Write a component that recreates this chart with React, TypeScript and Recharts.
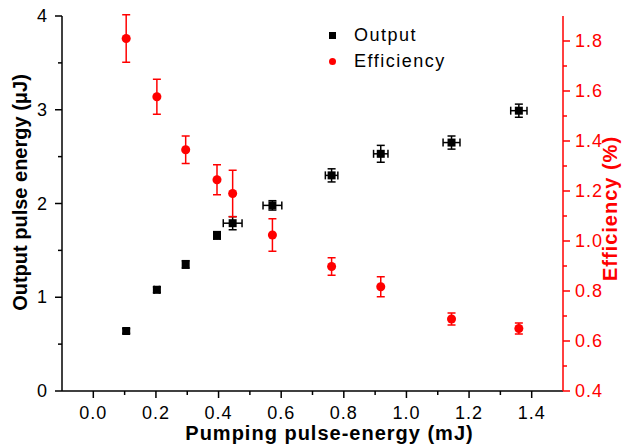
import {
  ScatterChart, Scatter, XAxis, YAxis, ZAxis, ErrorBar, Legend,
} from "recharts";

// pumping pulse energy (mJ) and its x error
const pump = [0.105, 0.203, 0.295, 0.395, 0.445, 0.572, 0.761, 0.918, 1.144, 1.359];
const pumpErr = [0.008, 0.008, 0.008, 0.01, 0.03, 0.03, 0.02, 0.023, 0.027, 0.026];

// output pulse energy (uJ)
const output = [0.64, 1.08, 1.35, 1.66, 1.79, 1.98, 2.30, 2.53, 2.65, 2.99];
const outputErr = [0.025, 0.03, 0.04, 0.04, 0.07, 0.05, 0.07, 0.09, 0.07, 0.07];

// efficiency (%)
const efficiency = [1.81, 1.577, 1.365, 1.245, 1.19, 1.024, 0.898, 0.817, 0.688, 0.650];
const efficiencyErr = [0.095, 0.07, 0.055, 0.06, 0.093, 0.065, 0.035, 0.04, 0.024, 0.022];

const xTicks = [0, 0.1, 0.2, 0.3, 0.4, 0.5, 0.6, 0.7, 0.8, 0.9, 1.0, 1.1, 1.2, 1.3, 1.4];
const leftTicks = [0, 0.5, 1, 1.5, 2, 2.5, 3, 3.5, 4];
const rightTicks = [0.4, 0.5, 0.6, 0.7, 0.8, 0.9, 1.0, 1.1, 1.2, 1.3, 1.4, 1.5, 1.6, 1.7, 1.8];

const outputData = pump.map((x, i) => ({ x, y: output[i], ex: pumpErr[i], ey: outputErr[i] }));
const effData = pump.map((x, i) => ({ x, y: efficiency[i], ey: efficiencyErr[i] }));

const FONT = "'Liberation Sans', Arial, sans-serif";
const RED = "#ff0000";

const isMajorTenth = (v: number) => Math.round(v * 10) % 2 === 0;

function BottomTick({ x, y, payload }: any) {
  const v = payload.value;
  const major = isMajorTenth(v);
  return (
    <g>
      <line x1={x} x2={x} y1={y} y2={y + (major ? 7 : 4)} stroke="#000" strokeWidth={1.5} />
      {major && (
        <text x={x} y={y + 28} textAnchor="middle" fontSize={18} fontFamily={FONT} letterSpacing={1} fill="#000">
          {v.toFixed(1)}
        </text>
      )}
    </g>
  );
}

function TopTick({ x, y }: any) {
  return <line x1={x} x2={x} y1={y} y2={y + 7} stroke="#000" strokeWidth={1.5} />;
}

function LeftTick({ x, y, payload }: any) {
  const v = payload.value;
  const major = Number.isInteger(v);
  return (
    <g>
      <line x1={x} x2={x - (major ? 7 : 4)} y1={y} y2={y} stroke="#000" strokeWidth={1.5} />
      {major && (
        <text x={x - 15} y={y + 6} textAnchor="end" fontSize={18} fontFamily={FONT} fill="#000">
          {v}
        </text>
      )}
    </g>
  );
}

function RightTick({ x, y, payload }: any) {
  const v = payload.value;
  const major = isMajorTenth(v);
  return (
    <g>
      <line x1={x} x2={x + (major ? 7 : 4)} y1={y} y2={y} stroke={RED} strokeWidth={1.5} />
      {major && (
        <text x={x + 12} y={y + 6} textAnchor="start" fontSize={18} fontFamily={FONT} letterSpacing={1} fill={RED}>
          {v.toFixed(1)}
        </text>
      )}
    </g>
  );
}

function LegendBox() {
  const text = { fontSize: 18, fontFamily: FONT, letterSpacing: 1.5, color: "#000", lineHeight: "26px" };
  return (
    <div>
      <div style={{ display: "flex", alignItems: "center" }}>
        <span style={{ width: 7, height: 7, background: "#000", display: "inline-block", marginRight: 18 }} />
        <span style={text}>Output</span>
      </div>
      <div style={{ display: "flex", alignItems: "center" }}>
        <span style={{ width: 7, height: 7, borderRadius: 4, background: RED, display: "inline-block", marginRight: 18 }} />
        <span style={text}>Efficiency</span>
      </div>
    </div>
  );
}

export default function App() {
  return (
    <div style={{ position: "absolute", left: 0, top: 0, background: "#fff" }}>
      <ScatterChart width={631} height={447} margin={{ top: 16, right: 0, bottom: 0, left: 0 }}>
        <XAxis
          xAxisId="bottom" type="number" dataKey="x" domain={[-0.1, 1.5]} ticks={xTicks}
          allowDataOverflow interval={0} height={56} tickSize={0} tickMargin={0}
          tickLine={false} axisLine={{ stroke: "#000", strokeWidth: 1.5 }} tick={<BottomTick />}
          label={{ value: "Pumping pulse-energy (mJ)", position: "insideBottom", offset: 7, dx: 17, style: { fontSize: 20, fontWeight: 700, fontFamily: FONT, letterSpacing: 1, fill: "#000" } }}
        />
        <XAxis
          xAxisId="top" orientation="top" type="number" dataKey="x" domain={[-0.1, 1.5]} ticks={xTicks}
          allowDataOverflow interval={0} height={0} tickSize={0} tickMargin={0}
          tickLine={false} axisLine={{ stroke: "#000", strokeWidth: 1.5 }} tick={<TopTick />}
        />
        <YAxis
          yAxisId="left" type="number" dataKey="y" domain={[0, 4]} ticks={leftTicks} allowDataOverflow
          interval={0} width={62} tickSize={0} tickMargin={0} tickLine={false}
          axisLine={{ stroke: "#000", strokeWidth: 1.5 }} tick={<LeftTick />}
          label={{ value: "Output pulse energy (μJ)", angle: -90, position: "center", dx: -11, dy: -11, style: { fontSize: 20, fontWeight: 700, fontFamily: FONT, fill: "#000" } }}
        />
        <YAxis
          yAxisId="right" orientation="right" type="number" dataKey="y" domain={[0.4, 1.9]} ticks={rightTicks}
          allowDataOverflow interval={0} width={68} tickSize={0} tickMargin={0} tickLine={false}
          axisLine={{ stroke: RED, strokeWidth: 1.5 }} tick={<RightTick />}
          label={{ value: "Efficiency (%)", angle: -90, position: "center", dx: 13, dy: 5, style: { fontSize: 20, fontWeight: 700, fontFamily: FONT, letterSpacing: 1, fill: RED } }}
        />
        <ZAxis range={[50, 50]} />
        <Legend
          layout="vertical" align="center" verticalAlign="middle" content={<LegendBox />}
          wrapperStyle={{ position: "absolute", left: 329, top: 22, width: "auto", height: "auto" }}
        />
        <Scatter
          name="Output" data={outputData} xAxisId="bottom" yAxisId="left"
          fill="#000" shape="square" isAnimationActive={false}
        >
          <ErrorBar dataKey="ey" direction="y" width={4} stroke="#000" strokeWidth={1.5} isAnimationActive={false} />
          <ErrorBar dataKey="ex" direction="x" width={4} stroke="#000" strokeWidth={1.5} isAnimationActive={false} />
        </Scatter>
        <Scatter
          name="Efficiency" data={effData} xAxisId="bottom" yAxisId="right"
          fill={RED} shape="circle" isAnimationActive={false}
        >
          <ErrorBar dataKey="ey" direction="y" width={4} stroke={RED} strokeWidth={1.5} isAnimationActive={false} />
        </Scatter>
      </ScatterChart>
    </div>
  );
}
